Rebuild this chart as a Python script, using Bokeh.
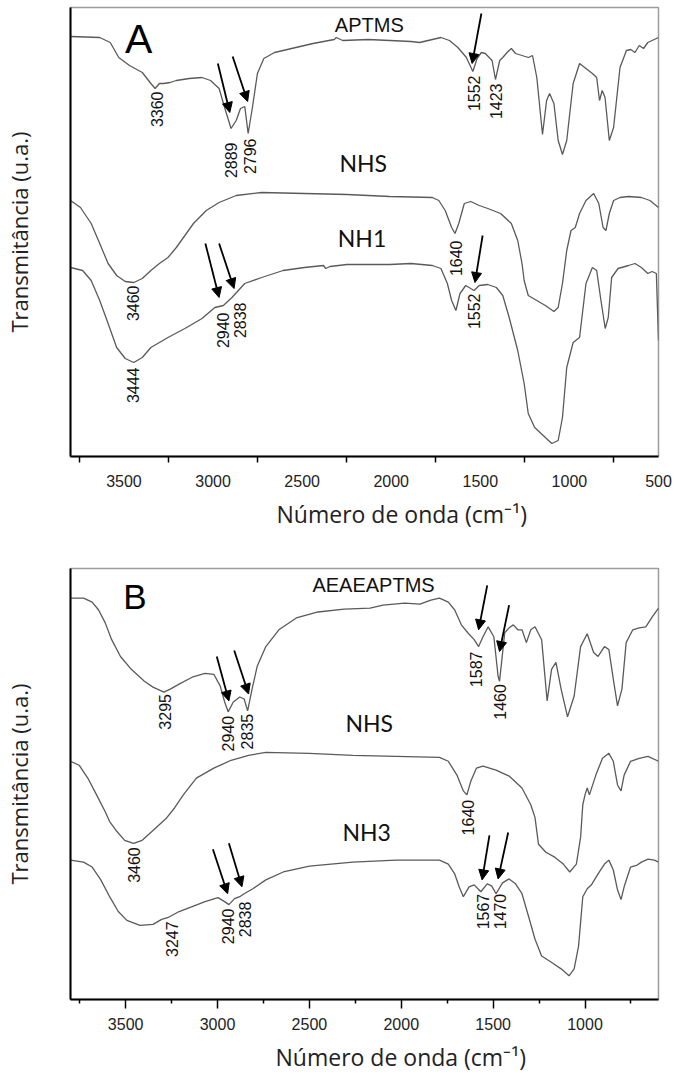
import math
from bokeh.plotting import figure
from bokeh.models import Range1d, FixedTicker, Arrow, NormalHead, Title, ColumnDataSource
from bokeh.layouts import column
from bokeh.core.properties import value
from bokeh.embed import file_html
from bokeh.resources import INLINE

# ---------------- Panel A data (wavenumber cm-1, transmittance a.u.) ----------------
aptms_wn = [3800, 3636, 3577, 3529, 3469, 3397, 3349, 3325, 3301, 3277, 3241, 3206, 3134, 3062, 3014, 2966, 2930, 2899, 2870, 2846,
            2822, 2803, 2779, 2751, 2715, 2655, 2535, 2439, 2320, 2308, 2272, 2128, 2008, 1889, 1841, 1769, 1721, 1673, 1626, 1578,
            1542, 1518, 1494, 1472, 1434, 1415, 1391, 1374, 1350, 1326, 1302, 1266, 1230, 1207, 1183, 1151, 1128, 1111, 1087, 1063,
            1039, 1015, 979, 943, 907, 871, 847, 831, 816, 800, 776, 752, 716, 680, 656, 632, 608, 584, 560, 524, 500]
aptms_t = [420, 419, 414, 399, 391, 384, 373, 368, 373, 373, 374, 376, 378, 379, 376, 368, 346, 328, 336, 348,
           350, 323, 349, 383, 398, 404, 409, 413, 417, 419, 416, 417, 416, 415, 414, 417, 419, 416, 409, 399,
           385, 398, 404, 403, 396, 377, 396, 399, 404, 408, 403, 401, 399, 401, 379, 322, 356, 363, 353, 316,
           302, 316, 373, 393, 388, 383, 379, 356, 366, 359, 316, 329, 389, 406, 407, 404, 411, 408, 414, 417, 419]

nhs_a_wn = [3800, 3744, 3684, 3636, 3589, 3541, 3493, 3445, 3397, 3349, 3301, 3253, 3206, 3158, 3110, 3038, 2966, 2870, 2727, 2487,
            2248, 2008, 1769, 1733, 1697, 1661, 1642, 1621, 1590, 1554, 1506, 1458, 1386, 1326, 1290, 1266, 1254, 1231, 1183, 1135,
            1087, 1063, 1039, 1015, 991, 967, 943, 907, 864, 835, 811, 795, 776, 752, 716, 668, 596, 548, 500]
nhs_a_t = [256, 249, 233, 213, 193, 181, 175, 174, 178, 186, 193, 199, 209, 221, 233, 246, 254, 261, 264, 263,
           262, 260, 259, 256, 246, 229, 223, 233, 253, 255, 251, 248, 243, 233, 216, 193, 176, 161, 156, 151,
           145, 149, 173, 206, 226, 229, 243, 256, 263, 253, 229, 226, 243, 256, 259, 260, 259, 256, 249]

nh1_wn = [3800, 3732, 3684, 3636, 3589, 3541, 3493, 3445, 3397, 3349, 3301, 3253, 3158, 3062, 2990, 2942, 2894, 2822, 2727, 2607,
          2487, 2380, 2368, 2344, 2248, 2008, 1889, 1769, 1721, 1685, 1661, 1637, 1614, 1582, 1554, 1535, 1506, 1458, 1410, 1374,
          1338, 1290, 1254, 1231, 1195, 1147, 1099, 1063, 1039, 1015, 979, 943, 907, 871, 847, 823, 799, 782, 763, 727,
          668, 632, 596, 560, 536, 512, 500]
nh1_t = [189, 186, 176, 156, 133, 109, 98, 94, 99, 109, 114, 119, 128, 138, 149, 151, 159, 173, 179, 186,
         189, 191, 188, 190, 192, 192, 193, 191, 188, 173, 156, 146, 163, 171, 168, 166, 171, 172, 169, 161,
         139, 106, 73, 43, 29, 21, 13, 16, 39, 89, 114, 119, 173, 189, 186, 156, 128, 139, 179, 188,
         191, 193, 189, 183, 185, 183, 116]

# peak annotations A: (label, wavenumber, top of text in a.u.)
ann_a_text = ["3360", "2889", "2796", "1552", "1423", "3460", "1640", "2940", "2838", "1552", "3444"]
ann_a_wn = [3313, 2899, 2794, 1537, 1410, 3452, 1637, 2942, 2851, 1537, 3452]
ann_a_top = [365, 314, 318, 381, 373, 171, 216, 144, 154, 163, 89]

arr_a_x0 = [2973, 2890, 1494, 3043, 2966, 1487]
arr_a_y0 = [393, 400, 443, 213, 213, 221]
arr_a_x1 = [2906, 2806, 1546, 2966, 2882, 1530]
arr_a_y1 = [344, 355, 393, 159, 168, 174]

names_a = ["APTMS", "NHS", "NH1"]
names_a_wn = [2123, 2157, 2164]
names_a_y = [432, 294, 219]

# ---------------- Panel B data ----------------
aeae_wn = [3800, 3729, 3682, 3647, 3611, 3576, 3528, 3469, 3398, 3351, 3292, 3257, 3209, 3138, 3068, 3020, 2985, 2961, 2942, 2914,
           2879, 2855, 2836, 2812, 2784, 2737, 2666, 2571, 2453, 2311, 2170, 2099, 1981, 1898, 1839, 1792, 1744, 1709, 1673, 1638,
           1603, 1579, 1555, 1527, 1496, 1473, 1465, 1454, 1437, 1413, 1390, 1366, 1343, 1319, 1295, 1272, 1236, 1206, 1182, 1158,
           1130, 1095, 1059, 1024, 988, 953, 929, 894, 870, 846, 823, 799, 776, 740, 705, 669, 634, 600]
aeae_t = [406, 406, 402, 394, 381, 364, 347, 334, 322, 316, 311, 314, 319, 326, 330, 329, 317, 301, 291, 301,
          306, 304, 292, 314, 337, 357, 374, 386, 392, 395, 396, 399, 401, 400, 404, 406, 402, 394, 379, 371,
          364, 357, 367, 377, 367, 327, 322, 341, 371, 376, 379, 374, 374, 361, 374, 377, 364, 302, 334, 341,
          314, 286, 307, 357, 370, 351, 347, 357, 354, 324, 297, 314, 361, 374, 376, 377, 387, 396]

nhs_b_wn = [3800, 3753, 3706, 3658, 3611, 3587, 3552, 3505, 3457, 3410, 3351, 3280, 3233, 3186, 3115, 3020, 2926, 2831, 2737, 2500,
            2264, 2028, 1792, 1744, 1697, 1662, 1643, 1621, 1591, 1555, 1484, 1413, 1343, 1295, 1272, 1253, 1213, 1165, 1118, 1083,
            1047, 1024, 1012, 1000, 988, 976, 941, 905, 870, 846, 823, 804, 787, 752, 705, 657, 600]
nhs_b_t = [241, 237, 224, 207, 190, 180, 171, 161, 158, 161, 171, 183, 194, 207, 224, 234, 242, 247, 250, 249,
           247, 246, 245, 241, 227, 211, 207, 221, 234, 236, 232, 226, 214, 197, 184, 157, 149, 144, 137, 129,
           137, 164, 197, 207, 214, 207, 227, 244, 249, 241, 217, 211, 227, 241, 244, 246, 241]

nh3_wn = [3800, 3729, 3682, 3635, 3587, 3540, 3493, 3422, 3351, 3304, 3268, 3209, 3138, 3068, 2997, 2961, 2938, 2907, 2879, 2855,
          2808, 2737, 2642, 2500, 2264, 2028, 1792, 1744, 1709, 1685, 1662, 1631, 1603, 1567, 1532, 1508, 1484, 1449, 1413, 1378,
          1343, 1307, 1272, 1236, 1177, 1130, 1087, 1059, 1035, 1012, 988, 965, 929, 894, 870, 846, 823, 804, 787, 752,
          716, 693, 657, 622, 600]
nh3_t = [141, 139, 134, 121, 104, 89, 80, 75, 76, 81, 83, 89, 94, 99, 103, 99, 96, 102, 104, 107,
         112, 121, 129, 135, 139, 141, 141, 137, 127, 114, 104, 114, 116, 109, 117, 115, 107, 118, 122, 117,
         107, 84, 61, 44, 37, 31, 24, 31, 54, 104, 112, 116, 127, 137, 141, 131, 111, 101, 114, 134,
         136, 139, 142, 141, 139]

ann_b_text = ["3295", "2940", "2835", "1587", "1460", "1640", "3460", "3247", "2940", "2838", "1567", "1470"]
ann_b_wn = [3285, 2945, 2838, 1591, 1461, 1638, 3453, 3245, 2945, 2850, 1555, 1465]
ann_b_top = [309, 287, 289, 352, 319, 202, 154, 79, 92, 99, 107, 107]

arr_b_x0 = [3004, 2909, 1532, 1413, 3025, 2938, 1520, 1418]
arr_b_y0 = [347, 353, 419, 399, 152, 158, 166, 169]
arr_b_x1 = [2938, 2831, 1579, 1465, 2945, 2867, 1560, 1473]
arr_b_y1 = [302, 309, 374, 352, 107, 114, 121, 122]

names_b = ["AEAEAPTMS", "NHS", "NH3"]
names_b_wn = [2151, 2174, 2188]
names_b_y = [419, 280, 169]

ticks_a = [3500, 3000, 2500, 2000, 1500, 1000, 500]
minor_a = [3750, 3250, 2750, 2250, 1750, 1250, 750]
ticks_b = [3500, 3000, 2500, 2000, 1500, 1000]
minor_b = [3750, 3250, 2750, 2250, 1750, 1250, 750]

LINE = "#5a5a5a"
TITLE_FONT = "Open Sans"
NAME_FONT = "Lato"
ARIAL = "Liberation Sans"


def panel(height, xr, ymax, borders, ticks, minors, major_out, minor_out, lab_standoff,
          series, ann_text, ann_wn, ann_top, arrows, names, names_wn, names_y,
          letter, letter_wn, letter_y, letter_size, ytitle_standoff, xtitle_standoff, xtitle_offset):
    left, right, top, bottom = borders
    p = figure(width=687, height=height, x_range=Range1d(*xr), y_range=Range1d(0, ymax),
               output_backend="svg", toolbar_location=None,
               min_border_left=left, min_border_right=right, min_border_top=top, min_border_bottom=bottom)
    p.xgrid.visible = False
    p.ygrid.visible = False
    p.outline_line_color = "#9c9c9c"
    p.outline_line_width = 1.5
    p.background_fill_color = "white"
    p.border_fill_color = "white"

    xa = p.xaxis[0]
    xa.ticker = FixedTicker(ticks=ticks, minor_ticks=minors)
    xa.axis_line_color = "black"
    xa.axis_line_width = 2
    xa.major_tick_line_color = "black"
    xa.major_tick_line_width = 1.5
    xa.major_tick_out = major_out
    xa.major_tick_in = 0
    xa.minor_tick_line_color = "black"
    xa.minor_tick_line_width = 1.5
    xa.minor_tick_out = minor_out
    xa.minor_tick_in = 0
    xa.major_label_standoff = lab_standoff
    xa.major_label_text_font = ARIAL
    xa.major_label_text_font_size = "16px"
    xa.major_label_text_color = "#222222"

    ya = p.yaxis[0]
    ya.ticker = FixedTicker(ticks=[])
    ya.axis_line_color = "black"
    ya.axis_line_width = 2
    ya.major_tick_out = 0
    ya.major_tick_in = 0
    ya.minor_tick_out = 0
    ya.minor_tick_in = 0
    ya.axis_label = "Transmitância (u.a.)"
    ya.axis_label_text_font = TITLE_FONT
    ya.axis_label_text_font_size = "22px"
    ya.axis_label_text_font_style = "normal"
    ya.axis_label_text_color = "#222222"
    ya.axis_label_standoff = ytitle_standoff

    t = Title(text="Número de onda (cm⁻¹)", align="left", offset=xtitle_offset,
              text_font=TITLE_FONT, text_font_size="23px", text_font_style="normal",
              text_color="#222222", standoff=xtitle_standoff)
    p.add_layout(t, "below")

    for wn, tt in series:
        p.line(wn, tt, line_color=LINE, line_width=1.3)

    p.text(x=ann_wn, y=ann_top, text=ann_text, angle=math.pi / 2,
           text_align="right", text_baseline="middle",
           text_font=value(ARIAL), text_font_size="16px", text_color="#111111")

    x0, y0, x1, y1 = arrows
    src = ColumnDataSource(dict(x0=x0, y0=y0, x1=x1, y1=y1))
    p.add_layout(Arrow(source=src, x_start="x0", y_start="y0", x_end="x1", y_end="y1",
                       line_color="black", line_width=1.8,
                       end=NormalHead(size=10, fill_color="black", line_color="black", line_width=1)))

    p.text(x=names_wn[:1], y=names_y[:1], text=names[:1], text_align="center",
           text_baseline="alphabetic", text_font=value(ARIAL), text_font_size="20px",
           text_color="#111111")
    p.text(x=names_wn[1:], y=names_y[1:], text=names[1:], text_align="center",
           text_baseline="alphabetic", text_font=value(NAME_FONT), text_font_size="23px",
           text_color="#111111")
    p.text(x=[letter_wn], y=[letter_y], text=[letter], text_align="left",
           text_baseline="alphabetic", text_font=value(ARIAL), text_font_size=letter_size,
           text_color="#000000")
    return p


pA = panel(540, (3800, 500), 449, (66, 15, 7, 84), ticks_a, minor_a, 0, 6, 12,
           [(aptms_wn, aptms_t), (nhs_a_wn, nhs_a_t), (nh1_wn, nh1_t)],
           ann_a_text, ann_a_wn, ann_a_top, (arr_a_x0, arr_a_y0, arr_a_x1, arr_a_y1),
           names_a, names_a_wn, names_a_y, "A", 3494, 418, "41px", 37, 12, 206)

pB = panel(538, (3800, 600), 436, (67, 29, 28, 74), ticks_b, minor_b, 9, 4, 9,
           [(aeae_wn, aeae_t), (nhs_b_wn, nhs_b_t), (nh3_wn, nh3_t)],
           ann_b_text, ann_b_wn, ann_b_top, (arr_b_x0, arr_b_y0, arr_b_x1, arr_b_y1),
           names_b, names_b_wn, names_b_y, "B", 3513, 408, "35px", 37, 12, 205)

layout = column(pA, pB, spacing=0)
open("out.html", "w").write(file_html(layout, INLINE))
